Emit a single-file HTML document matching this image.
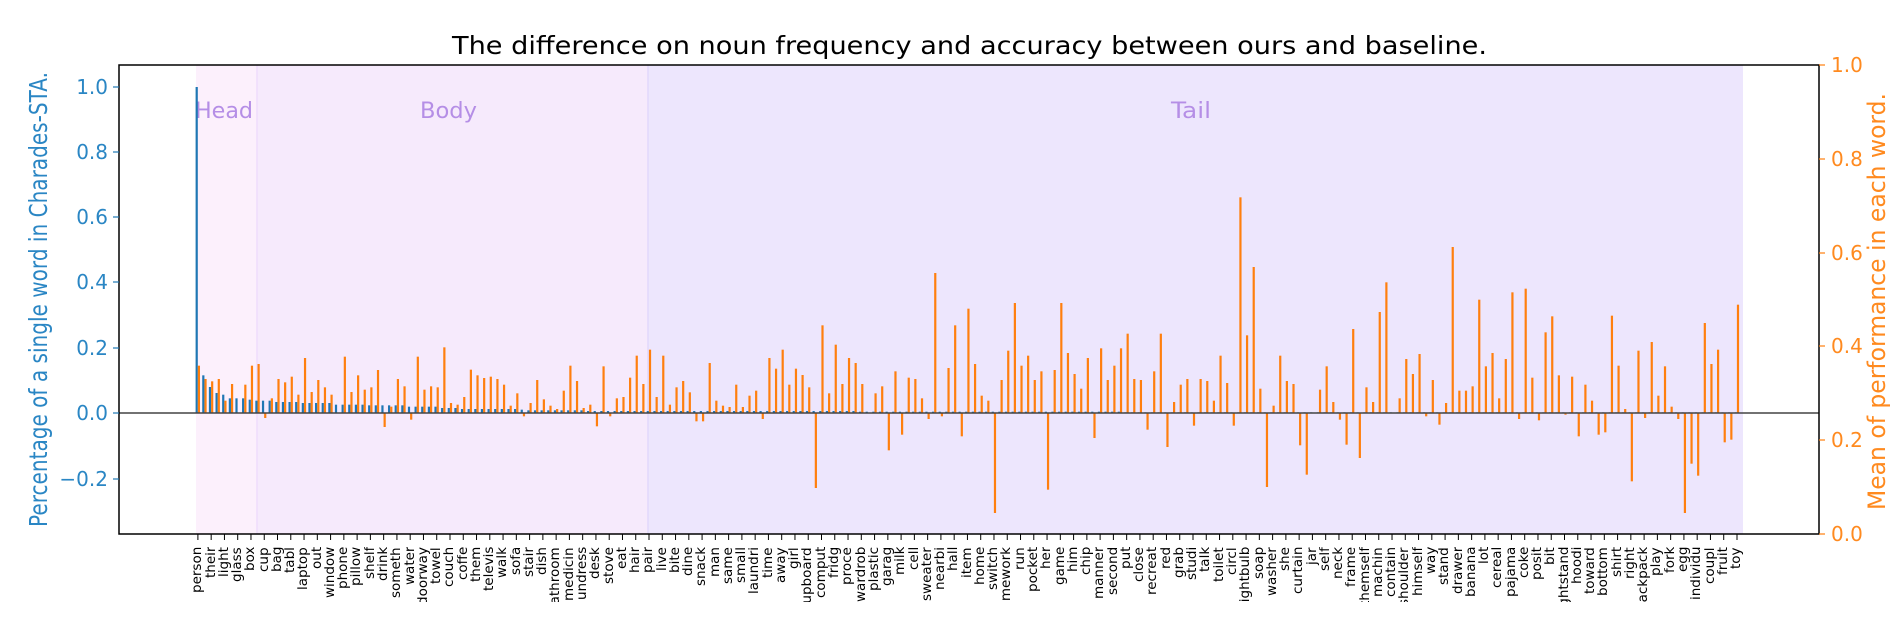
<!DOCTYPE html>
<html><head><meta charset="utf-8">
<style>
html,body{margin:0;padding:0;background:#fff;width:1899px;height:617px;overflow:hidden;position:relative;font-family:"DejaVu Sans","Liberation Sans",sans-serif;}
#labels{position:absolute;left:191.27px;top:547px;display:flex;}
#labels span{display:block;position:relative;width:13.268px;height:55px;overflow:hidden;transform:rotate(180deg);}
#labels i{position:absolute;left:0;bottom:0;width:13.268px;writing-mode:vertical-rl;line-height:13.268px;font-size:13.5px;font-style:normal;color:#000;white-space:nowrap;}
</style></head><body>
<svg id="s" width="1899" height="617" style="position:absolute;left:0;top:0" font-family="DejaVu Sans, Liberation Sans, sans-serif">
<rect x="196" y="65" width="61" height="469" fill="#fcf0fc"/>
<rect x="257" y="65" width="391" height="469" fill="#f6eafc"/>
<rect x="648" y="65" width="1095" height="469" fill="#ede6fd"/>
<line x1="257" y1="65" x2="257" y2="534" stroke="#efdcfb" stroke-width="1.5"/>
<line x1="648" y1="65" x2="648" y2="534" stroke="#e2d8fb" stroke-width="1.5"/>
<text x="195" y="118" font-size="22" fill="#b58ee6" textLength="58" lengthAdjust="spacingAndGlyphs">Head</text>
<text x="420" y="118" font-size="22" fill="#b58ee6" textLength="57" lengthAdjust="spacingAndGlyphs">Body</text>
<text x="1171" y="118" font-size="22" fill="#b58ee6" textLength="40" lengthAdjust="spacingAndGlyphs">Tail</text>
<g id="bars"></g>
<line x1="119" y1="413" x2="1819" y2="413" stroke="#444" stroke-width="1.5"/>
<rect x="119" y="65" width="1700" height="469" fill="none" stroke="#000" stroke-width="1.5"/>
<text x="452" y="54" font-size="25" fill="#000" textLength="1035" lengthAdjust="spacingAndGlyphs">The difference on noun frequency and accuracy between ours and baseline.</text>
<g stroke="#1f77b4" stroke-width="1.2">
<line x1="113" y1="87" x2="119" y2="87"/><line x1="113" y1="152" x2="119" y2="152"/><line x1="113" y1="217" x2="119" y2="217"/><line x1="113" y1="282" x2="119" y2="282"/><line x1="113" y1="348" x2="119" y2="348"/><line x1="113" y1="413" x2="119" y2="413"/><line x1="113" y1="479" x2="119" y2="479"/>
</g>
<g fill="#2a86c4" font-size="20" text-anchor="end">
<text x="108" y="94">1.0</text><text x="108" y="159">0.8</text><text x="108" y="224">0.6</text><text x="108" y="289">0.4</text><text x="108" y="355">0.2</text><text x="108" y="420">0.0</text><text x="108" y="486">−0.2</text>
</g>
<text transform="translate(47,527) rotate(-90)" font-size="25" fill="#2a86c4" textLength="455" lengthAdjust="spacingAndGlyphs">Percentage of a single word in Charades-STA.</text>
<g stroke="#ff7f0e" stroke-width="1.2">
<line x1="1819" y1="65" x2="1825" y2="65"/><line x1="1819" y1="159" x2="1825" y2="159"/><line x1="1819" y1="253" x2="1825" y2="253"/><line x1="1819" y1="346" x2="1825" y2="346"/><line x1="1819" y1="440" x2="1825" y2="440"/><line x1="1819" y1="534" x2="1825" y2="534"/>
</g>
<g fill="#ff8a1f" font-size="20">
<text x="1831" y="72">1.0</text><text x="1831" y="166">0.8</text><text x="1831" y="260">0.6</text><text x="1831" y="353">0.4</text><text x="1831" y="447">0.2</text><text x="1831" y="541">0.0</text>
</g>
<text transform="translate(1885,510) rotate(-90)" font-size="24" fill="#ff8a1f" textLength="417" lengthAdjust="spacingAndGlyphs">Mean of performance in each word.</text>
<g id="ticks" stroke="#000" stroke-width="1"></g>
</svg>
<div id="labels"><span><i>person</i></span><span><i>their</i></span><span><i>light</i></span><span><i>glass</i></span><span><i>box</i></span><span><i>cup</i></span><span><i>bag</i></span><span><i>tabl</i></span><span><i>laptop</i></span><span><i>out</i></span><span><i>window</i></span><span><i>phone</i></span><span><i>pillow</i></span><span><i>shelf</i></span><span><i>drink</i></span><span><i>someth</i></span><span><i>water</i></span><span><i>doorway</i></span><span><i>towel</i></span><span><i>couch</i></span><span><i>coffe</i></span><span><i>them</i></span><span><i>televis</i></span><span><i>walk</i></span><span><i>sofa</i></span><span><i>stair</i></span><span><i>dish</i></span><span><i>bathroom</i></span><span><i>medicin</i></span><span><i>undress</i></span><span><i>desk</i></span><span><i>stove</i></span><span><i>eat</i></span><span><i>hair</i></span><span><i>pair</i></span><span><i>live</i></span><span><i>bite</i></span><span><i>dine</i></span><span><i>snack</i></span><span><i>man</i></span><span><i>same</i></span><span><i>small</i></span><span><i>laundri</i></span><span><i>time</i></span><span><i>away</i></span><span><i>girl</i></span><span><i>cupboard</i></span><span><i>comput</i></span><span><i>fridg</i></span><span><i>proce</i></span><span><i>wardrob</i></span><span><i>plastic</i></span><span><i>garag</i></span><span><i>milk</i></span><span><i>cell</i></span><span><i>sweater</i></span><span><i>nearbi</i></span><span><i>hall</i></span><span><i>item</i></span><span><i>home</i></span><span><i>switch</i></span><span><i>homework</i></span><span><i>run</i></span><span><i>pocket</i></span><span><i>her</i></span><span><i>game</i></span><span><i>him</i></span><span><i>chip</i></span><span><i>manner</i></span><span><i>second</i></span><span><i>put</i></span><span><i>close</i></span><span><i>recreat</i></span><span><i>red</i></span><span><i>grab</i></span><span><i>studi</i></span><span><i>talk</i></span><span><i>toilet</i></span><span><i>circl</i></span><span><i>lightbulb</i></span><span><i>soap</i></span><span><i>washer</i></span><span><i>she</i></span><span><i>curtain</i></span><span><i>jar</i></span><span><i>self</i></span><span><i>neck</i></span><span><i>frame</i></span><span><i>themself</i></span><span><i>machin</i></span><span><i>contain</i></span><span><i>shoulder</i></span><span><i>himself</i></span><span><i>way</i></span><span><i>stand</i></span><span><i>drawer</i></span><span><i>banana</i></span><span><i>lot</i></span><span><i>cereal</i></span><span><i>pajama</i></span><span><i>coke</i></span><span><i>posit</i></span><span><i>bit</i></span><span><i>nightstand</i></span><span><i>hoodi</i></span><span><i>toward</i></span><span><i>bottom</i></span><span><i>shirt</i></span><span><i>right</i></span><span><i>backpack</i></span><span><i>play</i></span><span><i>fork</i></span><span><i>egg</i></span><span><i>individu</i></span><span><i>coupl</i></span><span><i>fruit</i></span><span><i>toy</i></span></div>
<script>
var O=[142,102,95,102,37,87,0,85,142,147,-15,44,102,92,109,55,165,63,99,77,55,0,169,63,113,70,77,129,-42,19,102,80,-20,169,70,80,77,197,30,25,48,130,113,105,109,102,85,22,59,-10,30,99,41,22,12,67,142,96,15,25,-40,140,-10,44,48,106,172,87,190,48,172,25,77,96,62,-25,-25,150,37,22,18,85,18,52,67,-18,165,133,190,85,133,114,77,-225,263,59,205,87,165,150,87,0,59,80,-112,125,-65,106,102,44,-18,420,-10,135,263,-70,313,147,52,37,-300,99,187,330,142,172,99,125,-230,129,330,180,117,73,165,-75,194,99,142,194,238,102,99,-50,125,238,-102,33,85,102,-38,102,96,37,172,90,-38,647,233,438,73,-222,22,172,96,87,-97,-185,0,70,140,33,-20,-95,252,-135,77,33,303,392,0,44,162,117,177,-10,99,-35,30,498,67,67,80,340,140,180,44,162,362,-18,373,106,-22,242,290,113,-5,109,-70,85,37,-65,-58,292,142,12,-205,187,-15,213,52,140,19,-18,-300,-152,-188,270,147,190,-88,-80,325];
var B=[978,113,78,60,55,44,44,44,40,37,37,37,33,33,33,33,30,30,30,30,30,25,25,25,25,25,23,23,23,23,23,23,19,19,19,19,19,15,15,15,12,12,12,12,12,12,12,12,12,10];
var g=document.getElementById('bars'),t=document.getElementById('ticks'),h='',tk='';
for(var k=0;k<233;k++){
 var c=197.9+6.634*k;
 var b=k<B.length?B[k]:(k<59?8:(k<100?6:(k<140?4:2)));
 var bh=b/3;
 h+='<rect x="'+(c-2.3).toFixed(2)+'" y="'+(413-bh).toFixed(2)+'" width="2.2" height="'+bh.toFixed(2)+'" fill="#1f77b4"/>';
 var o=O[k]/3;
 if(o!==0){var y=o>0?413-o:413;h+='<rect x="'+(c-0.1).toFixed(2)+'" y="'+y.toFixed(2)+'" width="2.2" height="'+Math.abs(o).toFixed(2)+'" fill="#ff7f0e"/>';}
 if(k%2==0){tk+='<line x1="'+c.toFixed(2)+'" y1="534" x2="'+c.toFixed(2)+'" y2="540"/>';}
}
g.innerHTML=h;t.innerHTML=tk;
</script>
</body></html>
